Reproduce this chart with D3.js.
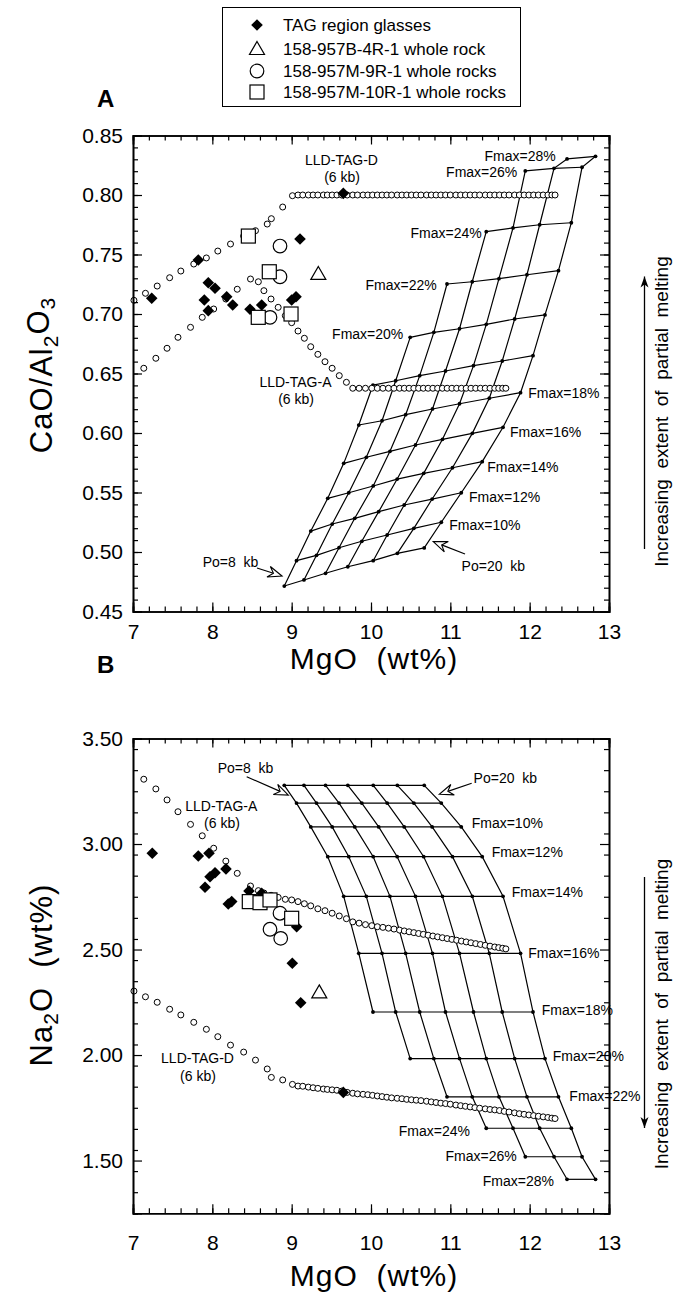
<!DOCTYPE html>
<html lang="en">
<head>
<meta charset="utf-8">
<title>TAG melting grids</title>
<script src="https://d3js.org/d3.v7.min.js"></script>
<style>
  body { margin: 0; background: #fff; }
  svg text { font-family: Arial, "Liberation Sans", Helvetica, sans-serif; fill: #000; }
  .lbl { font-size: 14px; white-space: pre; }
</style>
</head>
<body>
<div id="chart"></div>
<script>
// ---------------------------------------------------------------- data
var xTicks = [7, 8, 9, 10, 11, 12, 13];
var yTicksA = [0.45, 0.50, 0.55, 0.60, 0.65, 0.70, 0.75, 0.80, 0.85];
var yTicksB = [1.50, 2.00, 2.50, 3.00, 3.50];

var legendItems = ["TAG region glasses", "158-957B-4R-1 whole rock",
                   "158-957M-9R-1 whole rocks", "158-957M-10R-1 whole rocks"];

// TAG region glasses
var tagMgOA = [7.236, 7.823, 7.949, 8.034, 7.899, 7.949, 8.181, 8.257, 8.475, 8.622, 9.000, 9.055, 9.105, 9.651];
var tagCaAl = [0.7132, 0.7454, 0.7263, 0.7216, 0.7118, 0.7028, 0.7145, 0.7076, 0.7040, 0.7076, 0.7118, 0.7145, 0.7630, 0.8014];
var tagMgOB = [7.243, 7.823, 7.958, 8.034, 7.971, 7.908, 8.172, 8.244, 8.201, 8.462, 8.622, 9.063, 9.008, 9.114, 9.651];
var tagNa   = [2.956, 2.943, 2.956, 2.864, 2.845, 2.795, 2.882, 2.727, 2.716, 2.777, 2.766, 2.608, 2.435, 2.248, 1.823];

// 158-957B-4R-1 whole rock
var r4MgOA = [9.336], r4CaAl = [0.7328];
var r4MgOB = [9.348], r4Na = [2.292];

// 158-957M-9R-1 whole rocks
var r9MgOA = [8.853, 8.853, 8.727], r9CaAl = [0.7571, 0.7313, 0.6972];
var r9MgOB = [8.853, 8.727, 8.862], r9Na = [2.672, 2.596, 2.553];

// 158-957M-10R-1 whole rocks
var r10MgOA = [8.454, 8.718, 8.579, 8.992], r10CaAl = [0.7655, 0.7355, 0.6972, 0.7000];
var r10MgOB = [8.466, 8.601, 8.727, 9.000], r10Na = [2.727, 2.722, 2.735, 2.648];

// LLD-TAG-A (6 kb)
var lldAMgO = [7.136, 7.288, 7.429, 7.567, 7.725, 7.873, 8.017, 8.170, 8.314, 8.481,
  8.58, 8.65, 8.74, 8.83, 8.92, 9.00, 9.08, 9.16, 9.24, 9.33,
  9.42, 9.51, 9.60, 9.69, 9.77, 9.85, 9.93, 10.01, 10.08, 10.15,
  10.22, 10.29, 10.36, 10.42, 10.48, 10.54, 10.60, 10.66, 10.72, 10.78,
  10.84, 10.90, 10.96, 11.02, 11.08, 11.14, 11.20, 11.26, 11.32, 11.38,
  11.44, 11.50, 11.56, 11.61, 11.66, 11.70];
var lldACaAl = [0.6544, 0.6628, 0.6712, 0.6804, 0.6888, 0.6972, 0.7042, 0.7126, 0.7208, 0.7294,
  0.7271, 0.7196, 0.7126, 0.7056, 0.6986, 0.6927, 0.6857, 0.6796, 0.6725, 0.6661,
  0.6599, 0.6544, 0.6482, 0.6426, 0.6376, 0.6376, 0.6376, 0.6376, 0.6376, 0.6376,
  0.6376, 0.6376, 0.6376, 0.6376, 0.6376, 0.6376, 0.6376, 0.6376, 0.6376, 0.6376,
  0.6376, 0.6376, 0.6376, 0.6376, 0.6376, 0.6376, 0.6376, 0.6376, 0.6376, 0.6376,
  0.6376, 0.6376, 0.6376, 0.6376, 0.6376, 0.6376];
var lldANa = [3.307, 3.261, 3.209, 3.153, 3.093, 3.039, 2.980, 2.919, 2.861, 2.801,
  2.779, 2.768, 2.757, 2.747, 2.738, 2.735, 2.727, 2.717, 2.707, 2.693,
  2.684, 2.672, 2.659, 2.646, 2.631, 2.625, 2.618, 2.613, 2.608, 2.605,
  2.601, 2.597, 2.592, 2.588, 2.584, 2.580, 2.576, 2.572, 2.568, 2.564,
  2.560, 2.556, 2.552, 2.548, 2.544, 2.540, 2.536, 2.532, 2.528, 2.524,
  2.520, 2.516, 2.512, 2.509, 2.506, 2.503];

// LLD-TAG-D (6 kb)
var lldDMgO = [7.012, 7.157, 7.305, 7.462, 7.603, 7.766, 7.925, 8.069, 8.229, 8.395,
  8.544, 8.692, 8.744, 8.887, 9.010,
  9.08, 9.14, 9.21, 9.27, 9.33, 9.40, 9.45, 9.51, 9.57, 9.63,
  9.70, 9.77, 9.83, 9.90, 9.96, 10.02, 10.08, 10.14, 10.20, 10.26,
  10.33, 10.39, 10.45, 10.51, 10.57, 10.63, 10.70, 10.76, 10.82, 10.88,
  10.94, 11.00, 11.07, 11.13, 11.19, 11.25, 11.31, 11.37, 11.44, 11.50,
  11.56, 11.62, 11.68, 11.74, 11.81, 11.87, 11.93, 11.99, 12.05, 12.11,
  12.17, 12.23, 12.28, 12.32];
var lldDCaAl = [0.7115, 0.7174, 0.7235, 0.7305, 0.7361, 0.7420, 0.7471, 0.7529, 0.7588, 0.7655,
  0.7700, 0.7756, 0.7801, 0.7899, 0.7994,
  0.800, 0.800, 0.800, 0.800, 0.800, 0.800, 0.800, 0.800, 0.800, 0.800,
  0.800, 0.800, 0.800, 0.800, 0.800, 0.800, 0.800, 0.800, 0.800, 0.800,
  0.800, 0.800, 0.800, 0.800, 0.800, 0.800, 0.800, 0.800, 0.800, 0.800,
  0.800, 0.800, 0.800, 0.800, 0.800, 0.800, 0.800, 0.800, 0.800, 0.800,
  0.800, 0.800, 0.800, 0.800, 0.800, 0.800, 0.800, 0.800, 0.800, 0.800,
  0.800, 0.800, 0.800, 0.800];
var lldDNa = [2.303, 2.276, 2.250, 2.217, 2.190, 2.155, 2.122, 2.087, 2.047, 2.014,
  1.976, 1.934, 1.894, 1.882, 1.861,
  1.853, 1.852, 1.848, 1.845, 1.842, 1.839, 1.837, 1.835, 1.833, 1.829,
  1.823, 1.819, 1.816, 1.814, 1.812, 1.809, 1.806, 1.803, 1.800, 1.797,
  1.795, 1.793, 1.790, 1.788, 1.786, 1.784, 1.781, 1.778, 1.775, 1.772,
  1.770, 1.767, 1.763, 1.760, 1.757, 1.754, 1.751, 1.748, 1.745, 1.742,
  1.740, 1.737, 1.733, 1.730, 1.726, 1.722, 1.719, 1.716, 1.713, 1.710,
  1.707, 1.704, 1.701, 1.699];

// polybaric melting grid: columns Po = 8..20 kb, rows of increasing Fmax
var poCols = [8, 10, 12, 14, 16, 18, 20];
var gridMgO = [
  [8.907, 9.155, 9.427, 9.708, 10.028, 10.332, 10.671],
  [9.061, 9.313, 9.597, 9.884, 10.204, 10.540, 10.886],
  [9.241, 9.511, 9.795, 10.097, 10.419, 10.771, 11.138],
  [9.455, 9.720, 10.028, 10.330, 10.664, 11.027, 11.402],
  [9.656, 9.941, 10.239, 10.561, 10.901, 11.277, 11.664],
  [9.846, 10.139, 10.437, 10.775, 11.116, 11.491, 11.885],
  [10.025, 10.311, 10.614, 10.939, 11.292, 11.654, 12.042],
  [null, 10.494, 10.792, 11.116, 11.453, 11.811, 12.193],
  [null, null, 10.958, 11.276, 11.613, 11.966, 12.363],
  [null, null, null, 11.453, 11.790, 12.126, 12.525],
  [null, null, null, null, 11.945, 12.307, 12.660],
  [null, null, null, null, null, 12.471, 12.830]
];
var gridCaAl = [
  [0.4714, 0.4765, 0.4821, 0.4876, 0.4927, 0.4989, 0.5034],
  [0.4927, 0.4972, 0.5036, 0.5090, 0.5143, 0.5199, 0.5250],
  [0.5176, 0.5235, 0.5283, 0.5339, 0.5395, 0.5445, 0.5498],
  [0.5451, 0.5498, 0.5555, 0.5613, 0.5661, 0.5708, 0.5759],
  [0.5745, 0.5796, 0.5846, 0.5899, 0.5947, 0.5997, 0.6048],
  [0.6067, 0.6103, 0.6154, 0.6202, 0.6246, 0.6292, 0.6339],
  [0.6403, 0.6439, 0.6482, 0.6521, 0.6566, 0.6605, 0.6650],
  [null, 0.6804, 0.6846, 0.6876, 0.6913, 0.6958, 0.6992],
  [null, null, 0.7252, 0.7271, 0.7297, 0.7330, 0.7364],
  [null, null, null, 0.7692, 0.7723, 0.7750, 0.7767],
  [null, null, null, null, 0.8202, 0.8224, 0.8233],
  [null, null, null, null, null, 0.8303, 0.8325]
];
var gridNa = [
  [3.278, 3.278, 3.278, 3.278, 3.278, 3.278, 3.278],
  [3.194, 3.194, 3.194, 3.194, 3.194, 3.194, 3.194],
  [3.081, 3.081, 3.081, 3.081, 3.081, 3.081, 3.081],
  [2.940, 2.940, 2.940, 2.940, 2.940, 2.940, 2.940],
  [2.752, 2.752, 2.752, 2.752, 2.752, 2.752, 2.752],
  [2.482, 2.482, 2.482, 2.482, 2.482, 2.482, 2.482],
  [2.204, 2.204, 2.204, 2.204, 2.204, 2.204, 2.204],
  [null, 1.983, 1.983, 1.983, 1.983, 1.983, 1.983],
  [null, null, 1.802, 1.802, 1.802, 1.802, 1.802],
  [null, null, null, 1.653, 1.653, 1.653, 1.653],
  [null, null, null, null, 1.518, 1.518, 1.518],
  [null, null, null, null, null, 1.411, 1.411]
];

// annotation text: [text, MgO, value, anchor]
var notesA = [
  ["Fmax=10%", 10.987, 0.5227, "start"], ["Fmax=12%", 11.235, 0.5465, "start"],
  ["Fmax=14%", 11.466, 0.5717, "start"], ["Fmax=16%", 11.752, 0.6011, "start"],
  ["Fmax=18%", 11.983, 0.6339, "start"], ["Fmax=20%", 10.407, 0.6832, "end"],
  ["Fmax=22%", 10.828, 0.7244, "end"], ["Fmax=24%", 11.395, 0.7683, "end"],
  ["Fmax=26%", 11.844, 0.8191, "end"], ["Fmax=28%", 12.328, 0.8330, "end"],
  ["LLD-TAG-D", 9.628, 0.8294, "middle"], ["(6 kb)", 9.635, 0.8154, "middle"],
  ["LLD-TAG-A", 9.048, 0.6426, "middle"], ["(6 kb)", 9.055, 0.6286, "middle"],
  ["Po=8  kb", 8.229, 0.4918, "middle"], ["Po=20  kb", 11.542, 0.4882, "middle"]
];
var notesB = [
  ["Fmax=10%", 11.269, 3.101, "start"], ["Fmax=12%", 11.521, 2.964, "start"],
  ["Fmax=14%", 11.774, 2.771, "start"], ["Fmax=16%", 11.983, 2.485, "start"],
  ["Fmax=18%", 12.152, 2.213, "start"], ["Fmax=20%", 12.290, 1.995, "start"],
  ["Fmax=22%", 12.500, 1.807, "start"], ["Fmax=24%", 11.248, 1.641, "end"],
  ["Fmax=26%", 11.837, 1.523, "end"], ["Fmax=28%", 12.307, 1.403, "end"],
  ["LLD-TAG-A", 8.113, 3.180, "middle"], ["(6 kb)", 8.122, 3.101, "middle"],
  ["LLD-TAG-D", 7.813, 1.984, "middle"], ["(6 kb)", 7.819, 1.900, "middle"],
  ["Po=8  kb", 8.418, 3.359, "middle"], ["Po=20  kb", 11.693, 3.311, "middle"]
];
// Po arrows: [tail MgO, tail value, tip MgO, tip value]
var arrowsA = [[8.563, 0.4866, 8.878, 0.4798], [11.185, 0.4983, 10.785, 0.5087]];
var arrowsB = [[8.433, 3.319, 8.958, 3.232], [11.269, 3.288, 10.861, 3.236]];

// ---------------------------------------------------------------- layout
var W = 682, H = 1296;
var svg = d3.select("#chart").append("svg").attr("width", W).attr("height", H);

var x = d3.scaleLinear().domain([7, 13]).range([133, 609]);
var yA = d3.scaleLinear().domain([0.45, 0.85]).range([611.5, 135.5]);
var yB = d3.scaleLinear().domain([1.25, 3.5]).range([1213.3, 738.5]);

function axes(y, majors, minorStep, fmt, pad) {
  var x0 = x.range()[0], x1 = x.range()[1];
  var yb = y.range()[0], yt = y.range()[1];
  var dom = y.domain();
  var xMinor = d3.range(7, 13.001, 0.2);
  var yMinor = d3.range(dom[0], dom[1] + 1e-6, minorStep);

  var g = svg.append("g").attr("class", "axes");
  // minor ticks
  g.append("g").attr("transform", "translate(0," + yb + ")")
    .call(d3.axisBottom(x).tickValues(xMinor).tickSize(-5).tickFormat(""));
  g.append("g").attr("transform", "translate(0," + yt + ")")
    .call(d3.axisTop(x).tickValues(xMinor).tickSize(-5).tickFormat(""));
  g.append("g").attr("transform", "translate(" + x0 + ",0)")
    .call(d3.axisLeft(y).tickValues(yMinor).tickSize(-5).tickFormat(""));
  g.append("g").attr("transform", "translate(" + x1 + ",0)")
    .call(d3.axisRight(y).tickValues(yMinor).tickSize(-5).tickFormat(""));
  // major ticks with labels
  g.append("g").attr("class", "xl").attr("transform", "translate(0," + yb + ")")
    .call(d3.axisBottom(x).tickValues(xTicks).tickSize(-9).tickPadding(pad).tickFormat(d3.format("d")));
  g.append("g").attr("transform", "translate(0," + yt + ")")
    .call(d3.axisTop(x).tickValues(xTicks).tickSize(-9).tickFormat(""));
  g.append("g").attr("class", "yl").attr("transform", "translate(" + x0 + ",0)")
    .call(d3.axisLeft(y).tickValues(majors).tickSize(-9).tickPadding(10).tickFormat(d3.format(fmt)));
  g.append("g").attr("transform", "translate(" + x1 + ",0)")
    .call(d3.axisRight(y).tickValues(majors).tickSize(-9).tickFormat(""));

  g.selectAll("path.domain").attr("stroke", "#000").attr("stroke-width", 1.6);
  g.selectAll(".tick line").attr("stroke", "#000").attr("stroke-width", 1.2);
  g.selectAll(".tick text").attr("font-size", "21px")
    .attr("font-family", "Arial, 'Liberation Sans', sans-serif");
  g.selectAll(".xl .tick text").attr("dy", "0.9em");
}

function drawGrid(y, vals) {
  var g = svg.append("g").attr("class", "grid");
  var line = d3.line().x(function (d) { return x(d[0]); }).y(function (d) { return y(d[1]); });
  var pts = [];
  gridMgO.forEach(function (row, r) {
    var rowPts = [];
    row.forEach(function (m, c) { if (m !== null) { rowPts.push([m, vals[r][c]]); pts.push([m, vals[r][c]]); } });
    g.append("path").attr("d", line(rowPts));
  });
  poCols.forEach(function (po, c) {
    var colPts = [];
    gridMgO.forEach(function (row, r) { if (row[c] !== null) colPts.push([row[c], vals[r][c]]); });
    g.append("path").attr("d", line(colPts));
  });
  g.selectAll("path").attr("fill", "none").attr("stroke", "#000").attr("stroke-width", 1.2);
  g.selectAll("circle").data(pts).enter().append("circle")
    .attr("cx", function (d) { return x(d[0]); })
    .attr("cy", function (d) { return y(d[1]); })
    .attr("r", 1.9).attr("fill", "#000");
}

function drawLLD(y, mg, vals) {
  svg.append("g").selectAll("circle").data(mg).enter().append("circle")
    .attr("cx", function (d) { return x(d); })
    .attr("cy", function (d, i) { return y(vals[i]); })
    .attr("r", 3).attr("fill", "#fff").attr("stroke", "#000").attr("stroke-width", 1);
}

var diamondPath = "M0,-5.8L5.8,0L0,5.8L-5.8,0Z";
var trianglePath = "M0,-8.5L7.5,4.5L-7.5,4.5Z";

function drawSamples(y, tM, tV, bM, bV, cM, cV, sM, sV) {
  var g = svg.append("g");
  g.selectAll(".dia").data(tM).enter().append("path").attr("class", "dia")
    .attr("d", diamondPath)
    .attr("transform", function (d, i) { return "translate(" + x(d) + "," + y(tV[i]) + ")"; })
    .attr("fill", "#000");
  g.selectAll(".tri").data(bM).enter().append("path").attr("class", "tri")
    .attr("d", trianglePath)
    .attr("transform", function (d, i) { return "translate(" + x(d) + "," + y(bV[i]) + ")"; })
    .attr("fill", "#fff").attr("stroke", "#000").attr("stroke-width", 1.2);
  g.selectAll(".cir").data(cM).enter().append("circle").attr("class", "cir")
    .attr("cx", function (d) { return x(d); })
    .attr("cy", function (d, i) { return y(cV[i]); })
    .attr("r", 6.8).attr("fill", "#fff").attr("stroke", "#000").attr("stroke-width", 1.2);
  g.selectAll(".sq").data(sM).enter().append("rect").attr("class", "sq")
    .attr("x", function (d) { return x(d) - 7; })
    .attr("y", function (d, i) { return y(sV[i]) - 7; })
    .attr("width", 14).attr("height", 14)
    .attr("fill", "#fff").attr("stroke", "#000").attr("stroke-width", 1.2);
}

function drawNotes(y, notes, arrows) {
  var g = svg.append("g");
  g.selectAll("text").data(notes).enter().append("text").attr("class", "lbl")
    .attr("x", function (d) { return x(d[1]); })
    .attr("y", function (d) { return y(d[2]); })
    .attr("dy", "0.36em")
    .attr("text-anchor", function (d) { return d[3]; })
    .text(function (d) { return d[0]; });
  arrows.forEach(function (a) {
    var x0 = x(a[0]), y0 = y(a[1]), x1 = x(a[2]), y1 = y(a[3]);
    var ang = Math.atan2(y1 - y0, x1 - x0);
    var ag = g.append("g").attr("transform", "translate(" + x1 + "," + y1 + ") rotate(" + (ang * 180 / Math.PI) + ")");
    var len = Math.hypot(x1 - x0, y1 - y0);
    ag.append("line").attr("x1", -len).attr("y1", 0).attr("x2", -9).attr("y2", 0)
      .attr("stroke", "#000").attr("stroke-width", 1.2);
    ag.append("path").attr("d", "M0,0L-14,-5.5L-9,0L-14,5.5Z")
      .attr("fill", "#fff").attr("stroke", "#000").attr("stroke-width", 1.1);
  });
}

function sideNote(yc, up) {
  svg.append("text").attr("transform", "translate(661," + yc + ") rotate(-90)")
    .attr("text-anchor", "middle").attr("dy", "0.35em")
    .style("font-size", "19px").style("white-space", "pre")
    .text("Increasing  extent  of  partial  melting");
  var yTip = up ? yc - 135 : yc + 114, yTail = up ? yc + 137.5 : yc - 137;
  svg.append("line").attr("x1", 644.5).attr("x2", 644.5).attr("y1", yTail).attr("y2", yTip)
    .attr("stroke", "#000").attr("stroke-width", 1.3);
  var s = up ? -1 : 1;
  svg.append("path")
    .attr("d", "M644.5," + yTip + "L640.5," + (yTip - s * 11) + "L644.5," + (yTip - s * 8) + "L648.5," + (yTip - s * 11) + "Z")
    .attr("fill", "#000");
}

// ---------------------------------------------------------------- panel A
drawGrid(yA, gridCaAl);
drawLLD(yA, lldDMgO, lldDCaAl);
drawLLD(yA, lldAMgO, lldACaAl);
drawSamples(yA, tagMgOA, tagCaAl, r4MgOA, r4CaAl, r9MgOA, r9CaAl, r10MgOA, r10CaAl);
drawNotes(yA, notesA, arrowsA);
axes(yA, yTicksA, 0.01, ".2f", 9);
sideNote(411.5, true);

// ---------------------------------------------------------------- panel B
drawGrid(yB, gridNa);
drawLLD(yB, lldAMgO, lldANa);
drawLLD(yB, lldDMgO, lldDNa);
drawSamples(yB, tagMgOB, tagNa, r4MgOB, r4Na, r9MgOB, r9Na, r10MgOB, r10Na);
drawNotes(yB, notesB, arrowsB);
axes(yB, yTicksB, 0.1, ".2f", 18);
sideNote(1014, false);

// axis titles and panel letters
function xTitle(yBase) {
  svg.append("text").attr("x", 374).attr("y", yBase).attr("text-anchor", "middle")
    .style("font-size", "30px").style("letter-spacing", "1px").style("white-space", "pre")
    .text("MgO  (wt%)");
}
xTitle(669);
xTitle(1286);

var t1 = svg.append("text").attr("transform", "translate(52,375) rotate(-90)")
  .attr("text-anchor", "middle").style("font-size", "31px").style("letter-spacing", "1px");
t1.append("tspan").text("CaO/Al");
t1.append("tspan").attr("dy", "0.3em").style("font-size", "21px").text("2");
t1.append("tspan").attr("dy", "-0.3em").text("O");
t1.append("tspan").attr("dy", "0.3em").style("font-size", "21px").text("3");

var t2 = svg.append("text").attr("transform", "translate(52,975) rotate(-90)")
  .attr("text-anchor", "middle").style("font-size", "31px").style("letter-spacing", "1px")
  .style("white-space", "pre");
t2.append("tspan").text("Na");
t2.append("tspan").attr("dy", "0.3em").style("font-size", "21px").text("2");
t2.append("tspan").attr("dy", "-0.2em").text("O  (wt%)");

svg.append("text").attr("x", 97).attr("y", 107).style("font-size", "24px").style("font-weight", "bold").text("A");
svg.append("text").attr("x", 97).attr("y", 673).style("font-size", "24px").style("font-weight", "bold").text("B");

// ---------------------------------------------------------------- legend
var lg = svg.append("g");
lg.append("rect").attr("x", 222.5).attr("y", 7.5).attr("width", 298).attr("height", 99)
  .attr("fill", "#fff").attr("stroke", "#000").attr("stroke-width", 1);
var rowsY = [25, 49, 71, 92];
lg.append("path").attr("d", diamondPath).attr("transform", "translate(257," + rowsY[0] + ")").attr("fill", "#000");
lg.append("path").attr("d", trianglePath).attr("transform", "translate(257," + (rowsY[1] + 1) + ")")
  .attr("fill", "#fff").attr("stroke", "#000").attr("stroke-width", 1.2);
lg.append("circle").attr("cx", 257).attr("cy", rowsY[2]).attr("r", 6.8)
  .attr("fill", "#fff").attr("stroke", "#000").attr("stroke-width", 1.2);
lg.append("rect").attr("x", 250).attr("y", rowsY[3] - 7).attr("width", 14).attr("height", 14)
  .attr("fill", "#fff").attr("stroke", "#000").attr("stroke-width", 1.2);
lg.selectAll("text").data(legendItems).enter().append("text")
  .attr("x", 283).attr("y", function (d, i) { return rowsY[i]; }).attr("dy", "0.36em")
  .style("font-size", "17px").style("white-space", "pre")
  .text(function (d) { return d; });
</script>
</body>
</html>
